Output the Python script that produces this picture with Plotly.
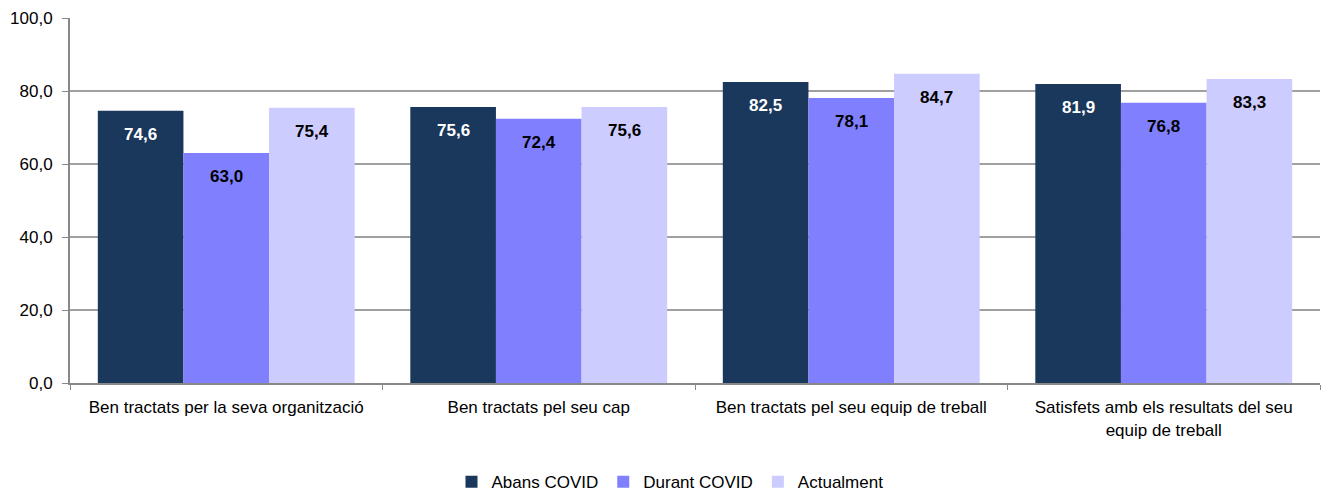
import plotly.graph_objects as go

categories = [
    "Ben tractats per la seva organització",
    "Ben tractats pel seu cap",
    "Ben tractats pel seu equip de treball",
    "Satisfets amb els resultats del seu<br>equip de treball",
]
series_names = ["Abans COVID", "Durant COVID", "Actualment"]
abans = [74.6, 75.6, 82.5, 81.9]
durant = [63.0, 72.4, 78.1, 76.8]
actual = [75.4, 75.6, 84.7, 83.3]
y_ticks = [0, 20, 40, 60, 80, 100]

colors = ["#1a375c", "#8080ff", "#ccccff"]
label_colors = ["white", "black", "black"]
series_values = [abans, durant, actual]

FONT = "Liberation Sans, Arial, sans-serif"
FS = 17
BARGAP = 0.178
bar_w = (1 - BARGAP) / 3

fig = go.Figure()
for name, vals, col in zip(series_names, series_values, colors):
    fig.add_trace(go.Bar(
        name=name, x=categories, y=vals,
        marker=dict(color=col, line=dict(width=0)),
        hoverinfo="skip",
    ))

# value labels inside the top of each bar
annotations = []
for s, (vals, tc) in enumerate(zip(series_values, label_colors)):
    for i, v in enumerate(vals):
        annotations.append(dict(
            x=i + (s - 1) * bar_w, y=v, xref="x", yref="y",
            text=f"<b>{v:.1f}".replace(".", ",") + "</b>",
            showarrow=False, yanchor="top", yshift=-12,
            font=dict(family=FONT, size=FS, color=tc),
        ))

fig.update_layout(
    barmode="group", bargap=BARGAP, bargroupgap=0,
    width=1325, height=496,
    margin=dict(l=70, r=5, t=18, b=113, autoexpand=False),
    plot_bgcolor="white", paper_bgcolor="white",
    separators=",.",
    font=dict(family=FONT, size=FS, color="black"),
    annotations=annotations,
    showlegend=True,
    legend=dict(orientation="h", x=0.48, xanchor="center",
                yref="container", y=0.028, yanchor="middle",
                font=dict(size=FS), itemwidth=30, traceorder="normal"),
    xaxis=dict(
        type="category", tickson="boundaries", ticks="outside", ticklen=5,
        tickcolor="#888888", showline=True, linecolor="#888888", linewidth=2,
        showgrid=False, tickfont=dict(size=FS), automargin=False, tickangle=0,
        ticklabelstandoff=8,
    ),
    yaxis=dict(
        range=[0, 100], tickvals=y_ticks, tickformat=".1f",
        ticks="outside", ticklen=6, tickcolor="#888888",
        showline=True, linecolor="#888888", linewidth=2,
        showgrid=True, gridcolor="#a0a0a0", gridwidth=1.5,
        tickfont=dict(size=FS), zeroline=False, automargin=False,
        ticklabelstandoff=6,
    ),
)

fig.write_html("out.html")
